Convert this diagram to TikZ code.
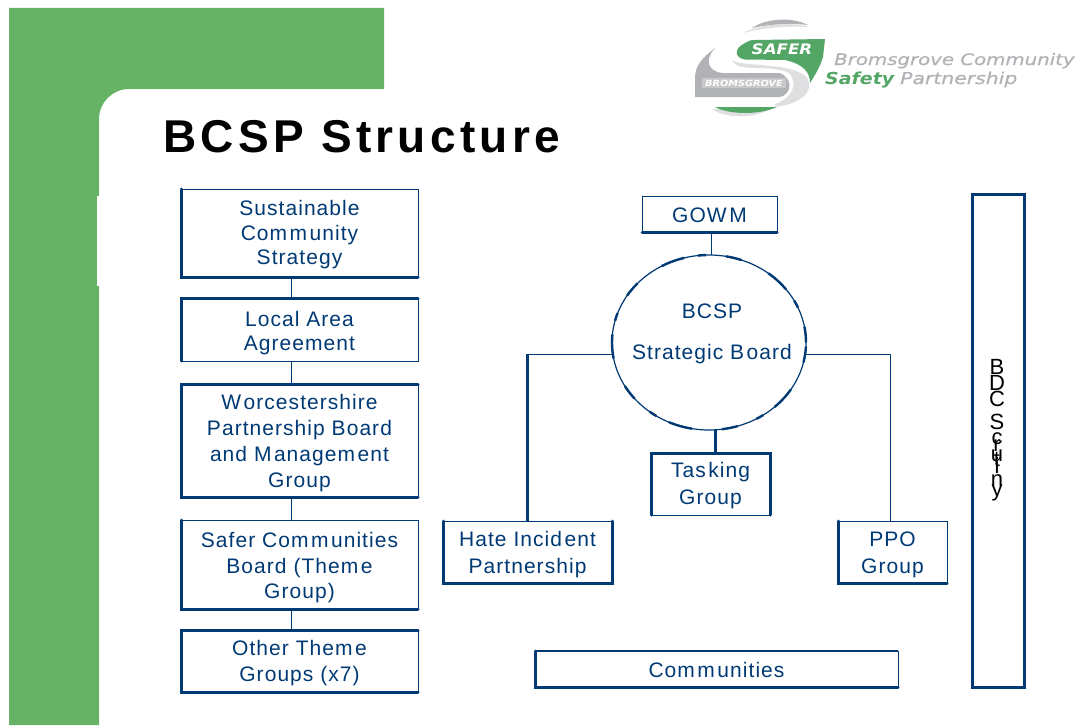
\documentclass[tikz,border=0pt]{standalone}
\usepackage{fontspec}
\usetikzlibrary{shapes.geometric}
\setmainfont{Liberation Sans}
\newfontfamily\bodyf[LetterSpace=5]{Liberation Sans}
\newfontfamily\titlef[LetterSpace=9.4]{Liberation Sans Bold}
\newfontfamily\logof[FakeStretch=1.25,FakeBold=0.5]{DejaVu Sans Oblique}
\newfontfamily\logob[FakeStretch=1.15]{DejaVu Sans Bold Oblique}
\definecolor{bgreen}{HTML}{66B366}
\definecolor{navy}{HTML}{003A75}
\definecolor{lgrey}{HTML}{B1B2B6}
\definecolor{pgrey}{HTML}{DFDFE1}
\definecolor{lgreen}{HTML}{54A666}
\newcommand\pad[1]{\rule{0pt}{#1pt}}
\newcommand\gp{\kern2.5pt}
\tikzset{
  box/.style={draw=navy,line width=1pt,fill=white,inner sep=0pt,outer sep=0pt,align=center,text=navy,font=\bodyf\fontsize{21}{26}\selectfont},
  thin/.style={draw=navy,line width=1pt},
  heavy/.style={draw=navy,line width=3pt,line cap=round},
  medium/.style={draw=navy,line width=2pt},
  stem/.style={draw=navy,line width=3pt},
}
\begin{document}
\begin{tikzpicture}[x=1pt,y=-1pt]
\useasboundingbox (0,0) rectangle (1083,725);
\fill[white] (0,0) rectangle (1083,725);
\fill[bgreen] (9,8) -- (384,8) -- (384,89) -- (129,89) arc[start angle=90,end angle=180,x radius=30,y radius=-30] -- (99,725) -- (9,725) -- cycle;
\fill[white] (97,196) rectangle (100,286);
% logo
\fill[pgrey] (743,33) .. controls (760,24) and (790,22) .. (810,27) .. controls (790,26) and (765,27) .. (743,33) -- cycle;
\fill[lgrey] (752,28) .. controls (765,19) and (790,16) .. (808,25) .. controls (790,23) and (770,24) .. (752,28) -- cycle;
\fill[pgrey] (732,60) .. controls (738,67) and (795,62) .. (807,78) .. controls (815,92) and (800,104) .. (775,107) -- (775,104) .. controls (792,98) and (798,85) .. (790,74) .. controls (780,66) and (750,69) .. (742,67) .. controls (737,66) and (734,64) .. (732,60) -- cycle;
\fill[lgrey] (715,48) .. controls (702,58) and (695,66) .. (695,78) -- (695,97) -- (780,97) .. controls (790,95) and (795,80) .. (780,73) -- (723,73) .. controls (708,72) and (704,60) .. (715,48) -- cycle;
\fill[pgrey!50!lgrey] (702,78) rectangle (786,88);
\fill[lgreen] (825,39) -- (823,57) .. controls (820,67) and (815,75) .. (810,83) .. controls (810,72) and (803,64) .. (785,60) -- (745,59.5) .. controls (735,58) and (733,49) .. (745,43) .. controls (748,41) and (750,40) .. (755,40) -- cycle;
\fill[pgrey] (712,109) .. controls (725,119) and (755,118) .. (768,110) -- cycle;
\fill[lgreen] (715,107) .. controls (730,115) and (760,115) .. (777,107) -- cycle;
\node[text=white,font=\logob\fontsize{14.5}{15}\selectfont] (logosafer) at (782,49) {SAFER};
\node[text=white,font=\logob\fontsize{8.5}{9}\selectfont] (logobroms) at (744,83) {BROMSGROVE};
\node[anchor=base west,inner sep=0pt,text=lgrey,font=\logof\fontsize{15.8}{16}\selectfont] (logo1) at (834,65) {Bromsgrove Community};
\node[anchor=base west,inner sep=0pt,text=lgreen,font=\logob\fontsize{16.5}{16}\selectfont] (logo2) at (825,84) {Safety};
\node[anchor=base west,inner sep=0pt,text=lgrey,font=\logof\fontsize{16.3}{16}\selectfont] (logo3) at (900,84) {Partnership};
% title
\node[anchor=base west,inner sep=0pt,font=\titlef\fontsize{46}{50}\selectfont] (title) at (163,152) {BCSP Structure};
% named guide coordinates
\coordinate (spine) at (291.5,0);
\coordinate (gowmx) at (711,0);
\coordinate (taskx) at (715,0);
\coordinate (hatey) at (0,354);
% left column
\node[box,minimum width=237pt,minimum height=88pt] (scs) at (299.5,233) {\pad{18}Sustainable\\[-1pt]Com\gp m\gp unity\\[-2pt]Strategy};
\node[box,minimum width=237pt,minimum height=63pt] (laa) at (299.5,329.5) {\pad{23}Local Area\\[-2pt]Agreement};
\node[box,minimum width=237pt,minimum height=113pt] (wpb) at (299.5,440.5) {\pad{21}W\gp orcestershire\\Partnership Board\\and M\gp anagem\gp ent\\Group};
\node[box,minimum width=237pt,minimum height=89pt] (scb) at (299.5,564.5) {\pad{21}Safer Com\gp m\gp unities\\Board (Them\gp e\\[-1pt]Group)};
\node[box,minimum width=237pt,minimum height=62pt] (otg) at (299.5,661) {\pad{19}Other Them\gp e\\Groups (x7)};
\draw[thin] (spine |- scs.south) -- (spine |- laa.north);
\draw[thin] (spine |- laa.south) -- (spine |- wpb.north);
\draw[thin] (spine |- wpb.south) -- (spine |- scb.north);
\draw[thin] (spine |- scb.south) -- (spine |- otg.north);
\draw[heavy] (scs.north west) -- (scs.south west) -- (scs.south east);
\draw[heavy] (laa.south west) -- (laa.north west) -- (laa.north east);
\draw[heavy] (wpb.north east) -- (wpb.north west) -- (wpb.south west) -- (wpb.south east);
\draw[heavy] (scb.north west) -- (scb.south west) -- (scb.south east);
\draw[heavy] (otg.north east) -- (otg.north west) -- (otg.south west) -- (otg.south east);
% centre
\node[box,minimum width=135pt,minimum height=36pt] (gowm) at (709.5,214) {\pad{17}GOW\gp M};
\node[draw=navy,line width=1.2pt,fill=white,ellipse,inner sep=0pt,outer sep=0pt,minimum width=194pt,minimum height=175pt] (board) at (709,342.5) {};
\node[inner sep=0pt,align=center,text=navy,font=\bodyf\fontsize{21}{41}\selectfont] (boardtext) at (712,333.5) {BCSP\\Strategic B\gp oard};
\node[box,minimum width=119pt,minimum height=62pt] (task) at (710.5,484) {\pad{18}Tas\gp king\\[1pt]Group};
\node[box,minimum width=169pt,minimum height=62pt] (hate) at (527.5,552) {\pad{20}Hate Incid\gp ent\\[1pt]Partnership};
\node[box,minimum width=109pt,minimum height=62pt] (ppo) at (892.5,552) {\pad{20}PPO\\[1pt]Group};
\node[box,minimum width=363pt,minimum height=36pt] (comm) at (716.5,669) {\pad{17}Com\gp m\gp unities};
\node[box,minimum width=52pt,minimum height=493pt] (bdc) at (998,440.5) {};
\node[text=black,inner sep=0pt,align=center,font=\fontsize{22}{15}\selectfont] (bdclabel) at (997,430) {B\\D\\C\\[6pt]S\\c\\[-8pt]r\\[-5pt]u\\[-10pt]t\\[-10pt]i\\[-2pt]n\\[-5pt]y};
\draw[thin] (gowmx |- gowm.south) -- (gowmx |- board.north);
\draw[stem] (taskx |- board.south) -- (taskx |- task.north);
\coordinate (hatec) at (hate.north |- hatey);
\coordinate (ppoc) at (890,354);
\draw[thin] (board.west |- hatey) -- (hatec);
\draw[stem] (hatec) -- (hate.north);
\draw[thin] (board.east |- hatey) -- (ppoc) -- (ppoc |- ppo.north);
\draw[heavy] (gowm.south west) -- (gowm.south east);
\draw[navy,line width=2.4pt,dash pattern=on 16pt off 20pt on 8pt off 14pt on 24pt off 30pt] (board.center) ++(0:97) arc[start angle=0,end angle=360,x radius=97,y radius=-87.5];
\draw[heavy] (task.south west) -- (task.north west) -- (task.north east) -- (task.south east);
\draw[heavy] (hate.north west) -- (hate.south west) -- (hate.south east) -- (hate.north east);
\draw[heavy] (ppo.north west) -- (ppo.south west) -- (ppo.south east);
\draw[medium] (comm.north west) -- (comm.north east);
\draw[heavy] (comm.north west) -- (comm.south west) -- (comm.south east);
\draw[heavy] (bdc.north west) rectangle (bdc.south east);
\end{tikzpicture}
\end{document}
